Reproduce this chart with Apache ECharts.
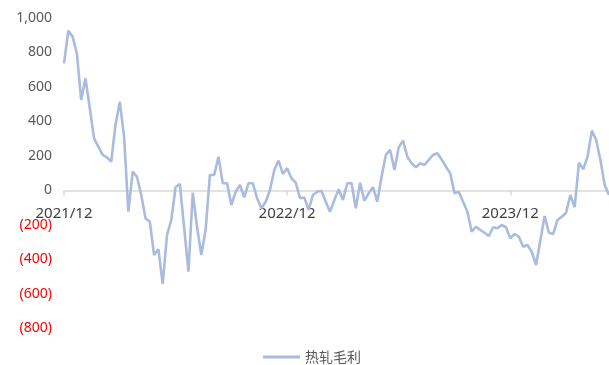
<!DOCTYPE html>
<html>
<head>
<meta charset="utf-8">
<script src="https://cdn.jsdelivr.net/npm/echarts@6/dist/echarts.min.js"></script>
<style>
  html, body { margin: 0; padding: 0; background: #fff; }
  #chart { width: 609px; height: 365px; }
</style>
</head>
<body>
<div id="chart"></div>
<script>
// Weekly hot-rolled coil gross margin (yuan/ton), starting the first week of Dec 2021
const startDate = '2021-12-03';
const margin = [
  737, 926, 892, 795, 525, 650, 480, 302, 254, 206,
  192, 167, 380, 515, 312, -123, 109, 80, -26, -161,
  -181, -374, -340, -542, -258, -171, 19, 38, -217, -470,
  -13, -210, -374, -229, 90, 90, 196, 42, 42, -84,
  -7, 32, -40, 42, 42, -45, -103, -65, 3, 119,
  173, 96, 129, 71, 45, -45, -40, -113, -26, -7,
  -1, -65, -123, -55, 7, -55, 42, 42, -103, 45,
  -59, -16, 19, -65, 80, 206, 235, 119, 250, 289,
  196, 158, 134, 158, 148, 177, 206, 216, 180, 138,
  100, -16, -7, -65, -123, -239, -210, -229, -245, -264,
  -213, -219, -200, -213, -277, -252, -268, -326, -316, -355,
  -432, -290, -148, -245, -252, -171, -152, -129, -26, -97,
  161, 123, 196, 347, 293, 177, 32, -26
];
const seriesName = '热轧毛利';
const tickLabels = ['2021/12', '2022/12', '2023/12'];
const yTicks = { min: -800, max: 1000, step: 200 };

// Weekly category dates
const categories = [];
(function () {
  const d = new Date(startDate + 'T00:00:00Z');
  for (let i = 0; i < margin.length; i++) {
    const t = new Date(d.getTime() + i * 7 * 86400000);
    const mm = String(t.getUTCMonth() + 1).padStart(2, '0');
    const dd = String(t.getUTCDate()).padStart(2, '0');
    categories.push(t.getUTCFullYear() + '/' + mm + '/' + dd);
  }
})();

function ym(s) { return s.slice(0, 7); }
const shownIdx = categories.map((c, i) => tickLabels.indexOf(ym(c)) >= 0 && (i === 0 || ym(categories[i - 1]) !== ym(c)) ? i : -1).filter(i => i >= 0);
const showAt = (i) => shownIdx.indexOf(i) >= 0;

const gridTop = 18, gridBottom = 36.5, H = 365;
// distance from the bottom edge of the plot to the zero line
const plotH = H - gridTop - gridBottom;
const zeroLift = plotH * (0 - yTicks.min) / (yTicks.max - yTicks.min);

const chart = echarts.init(document.getElementById('chart'), null, { renderer: 'canvas' });
chart.setOption({
  animation: false,
  backgroundColor: '#ffffff',
  grid: { left: 64, right: -1, top: gridTop, bottom: gridBottom, containLabel: false },
  legend: {
    data: [seriesName],
    left: 258,
    top: 345,
    icon: 'rect',
    itemWidth: 37,
    itemHeight: 3,
    itemGap: 9,
    textStyle: { fontFamily: 'Noto Sans CJK SC', fontSize: 14, color: '#595959' }
  },
  xAxis: {
    type: 'category',
    data: categories,
    boundaryGap: false,
    position: 'bottom',
    offset: -zeroLift,
    axisLine: { onZero: false, lineStyle: { color: '#d9d9d9', width: 1.5 } },
    axisTick: { show: true, interval: (i) => showAt(i), length: 5, lineStyle: { color: '#d9d9d9', width: 1.5 } },
    axisLabel: {
      interval: (i) => showAt(i),
      formatter: (v) => ym(v),
      margin: 16,
      fontFamily: 'Noto Sans',
      fontSize: 15,
      color: '#404040'
    },
    splitLine: { show: false }
  },
  yAxis: {
    type: 'value',
    min: yTicks.min,
    max: yTicks.max,
    interval: yTicks.step,
    axisLine: { show: false },
    axisTick: { show: false },
    splitLine: { show: false },
    axisLabel: {
      margin: 12,
      fontFamily: 'Noto Sans',
      fontSize: 14,
      color: '#595959',
      formatter: (v) => v < 0 ? '{neg|(' + Math.abs(v) + ')}' : (v >= 1000 ? v.toLocaleString('en-US') : String(v)),
      rich: { neg: { color: '#ff0000', fontFamily: 'Noto Sans', fontSize: 14 } }
    }
  },
  series: [{
    name: seriesName,
    type: 'line',
    data: margin,
    symbol: 'none',
    lineStyle: { color: '#a9bcdf', width: 2.6 },
    itemStyle: { color: '#a9bcdf' }
  }]
});
</script>
</body>
</html>
